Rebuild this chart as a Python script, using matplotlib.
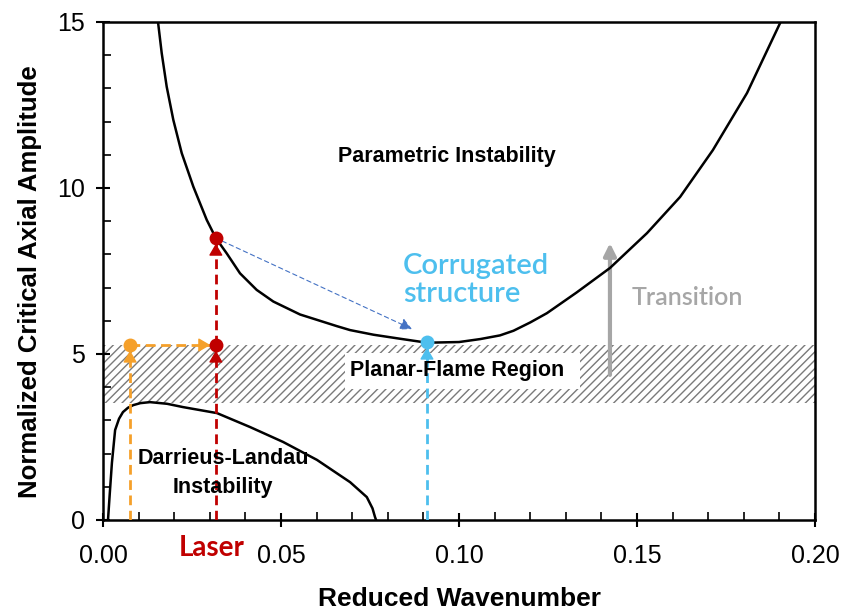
import matplotlib
matplotlib.use("Agg")
import matplotlib.pyplot as plt
from matplotlib.patches import Rectangle
from matplotlib.ticker import MultipleLocator, FormatStrFormatter

# Parametric-instability boundary (reduced wavenumber, critical amplitude)
param_k = [0.01545, 0.01649, 0.01789, 0.01975, 0.02211, 0.02537, 0.02913, 0.0317,
           0.03475, 0.03848, 0.04317, 0.04784, 0.05534, 0.06565, 0.0694, 0.0760,
           0.0834, 0.0910, 0.1000, 0.1060, 0.1115, 0.1153, 0.1200, 0.1247, 0.1330,
           0.1424, 0.1528, 0.1621, 0.1713, 0.1809, 0.1902]
param_a = [15.0, 14.06, 13.05, 12.05, 11.05, 10.04, 9.04, 8.49,
           8.03, 7.43, 6.93, 6.58, 6.19, 5.84, 5.72, 5.58,
           5.46, 5.34, 5.36, 5.45, 5.56, 5.70, 5.95, 6.23, 6.85,
           7.59, 8.64, 9.73, 11.14, 12.86, 14.97]

# Darrieus-Landau boundary
dl_k = [0.0014, 0.0019, 0.0025, 0.0034, 0.0045, 0.0056, 0.0070, 0.0085, 0.0105,
        0.0132, 0.0180, 0.0225, 0.0320, 0.0413, 0.0506, 0.0601, 0.0694, 0.0741,
        0.0757, 0.0764, 0.0767]
dl_a = [0.0, 0.8, 1.72, 2.71, 3.05, 3.25, 3.38, 3.46, 3.52,
        3.55, 3.50, 3.40, 3.22, 2.80, 2.35, 1.81, 1.14, 0.69,
        0.35, 0.09, 0.0]

# Planar-flame band limits
band_low, band_high = 3.52, 5.27

# Operating points
orange_pt = (0.0076, 5.27)
red_low_pt = (0.0317, 5.27)
red_up_pt = (0.0317, 8.49)
blue_pt = (0.0910, 5.36)
blue_tri = (0.0868, 5.75)
transition_k = 0.1424
transition_a = (4.37, 8.34)

x_ticks = [0.00, 0.05, 0.10, 0.15, 0.20]
y_ticks = [0, 5, 10, 15]

ORANGE = "#F5A02A"
RED = "#C00000"
LBLUE = "#4DBFEE"
DBLUE = "#4472C4"
GREY = "#A6A6A6"
ROUND = ["Lato", "DejaVu Sans"]

plt.rcParams["font.family"] = ["Liberation Sans", "DejaVu Sans"]
plt.rcParams["hatch.linewidth"] = 1.0
plt.rcParams["hatch.color"] = "#7a7a7a"

fig = plt.figure(figsize=(8.43, 6.14), dpi=100)
ax = fig.add_axes([0.1222, 0.1531, 0.8446, 0.8111])

ax.set_xlim(0, 0.20)
ax.set_ylim(0, 15)

# hatched planar-flame band with a clear patch behind its label
ax.fill_between([0, 0.20], band_low, band_high, facecolor="none",
                hatch="////", edgecolor="#7a7a7a", linewidth=0, zorder=1)
ax.add_patch(Rectangle((0.0680, 3.95), 0.0660, 1.08, facecolor="white",
                       edgecolor="none", zorder=2))

ax.plot(param_k, param_a, color="black", lw=1.8, zorder=3)
ax.plot(dl_k, dl_a, color="black", lw=1.8, zorder=3)


def dashed_arrow(p0, p1, color, vertical=True):
    # dashed shaft, then a solid head whose tip touches the marker
    ax.plot([p0[0], p1[0]], [p0[1], p1[1]], color=color, lw=2,
            linestyle=(0, (3.5, 2)), zorder=4)
    off = (0, -8) if vertical else (-8, 0)
    ax.annotate("", xy=p1, xytext=off, textcoords="offset points",
                arrowprops=dict(arrowstyle="-|>,head_length=0.6,head_width=0.35",
                                color=color, lw=1,
                                mutation_scale=12, shrinkA=0, shrinkB=4),
                zorder=4)


# orange path
dashed_arrow((orange_pt[0], 0), orange_pt, ORANGE)
dashed_arrow(orange_pt, red_low_pt, ORANGE, vertical=False)
# red path
dashed_arrow((red_low_pt[0], 0), red_low_pt, RED)
dashed_arrow(red_low_pt, red_up_pt, RED)
# blue path
dashed_arrow((blue_pt[0], 0), blue_pt, LBLUE)
# thin link towards the corrugated point
ax.annotate("", xy=blue_tri, xytext=red_up_pt,
            arrowprops=dict(arrowstyle="-|>", linestyle=(0, (4, 3)), color=DBLUE,
                            lw=0.8, mutation_scale=18, shrinkA=5, shrinkB=0),
            zorder=4)

# transition arrow
ax.annotate("", xy=(transition_k, transition_a[1]), xytext=(transition_k, transition_a[0]),
            arrowprops=dict(arrowstyle="-|>", color=GREY, lw=3, mutation_scale=18,
                            shrinkA=0, shrinkB=0), zorder=2.5)

for pt, c in [(orange_pt, ORANGE), (red_low_pt, RED), (red_up_pt, RED), (blue_pt, LBLUE)]:
    ax.plot(pt[0], pt[1], "o", color=c, ms=10, mec="none", zorder=5)

# region labels
ax.text(0.0966, 10.96, "Parametric Instability", ha="center", va="center",
        fontsize=15.5, fontweight="bold", zorder=6)
ax.text(0.0995, 4.5, "Planar-Flame Region", ha="center", va="center",
        fontsize=15.5, fontweight="bold", zorder=6)
ax.text(0.0337, 1.43, "Darrieus-Landau\nInstability", ha="center", va="center",
        fontsize=15.5, fontweight="bold", linespacing=1.5, zorder=6)
ax.text(0.0843, 7.23, "Corrugated\nstructure", ha="left", va="center",
        fontsize=21, color=LBLUE, family=ROUND, fontweight="semibold",
        linespacing=1.1, zorder=6)
ax.text(0.1485, 6.69, "Transition", ha="left", va="center",
        fontsize=18, color=GREY, family=ROUND, fontweight="semibold", zorder=6)
ax.text(0.0306, -0.85, "Laser", ha="center", va="center", fontsize=20,
        color=RED, family=ROUND, fontweight="bold", clip_on=False)

# axes styling
ax.set_xticks(x_ticks)
ax.set_yticks(y_ticks)
ax.xaxis.set_major_formatter(FormatStrFormatter("%.2f"))
ax.xaxis.set_minor_locator(MultipleLocator(0.01))
ax.yaxis.set_minor_locator(MultipleLocator(1))
ax.tick_params(which="major", direction="inout", length=10, width=1.5, labelsize=18, pad=8)
ax.tick_params(which="minor", direction="in", length=6, width=1.2)
ax.tick_params(axis="x", which="major", pad=12)
for s in ax.spines.values():
    s.set_linewidth(1.8)

ax.set_xlabel("Reduced Wavenumber", fontsize=19, fontweight="bold")
ax.set_ylabel("Normalized Critical Axial Amplitude", fontsize=18.5, fontweight="bold")
ax.xaxis.set_label_coords(0.5, -0.135)
ax.yaxis.set_label_coords(-0.0856, 0.478)

fig.savefig("out.png", dpi=100)
